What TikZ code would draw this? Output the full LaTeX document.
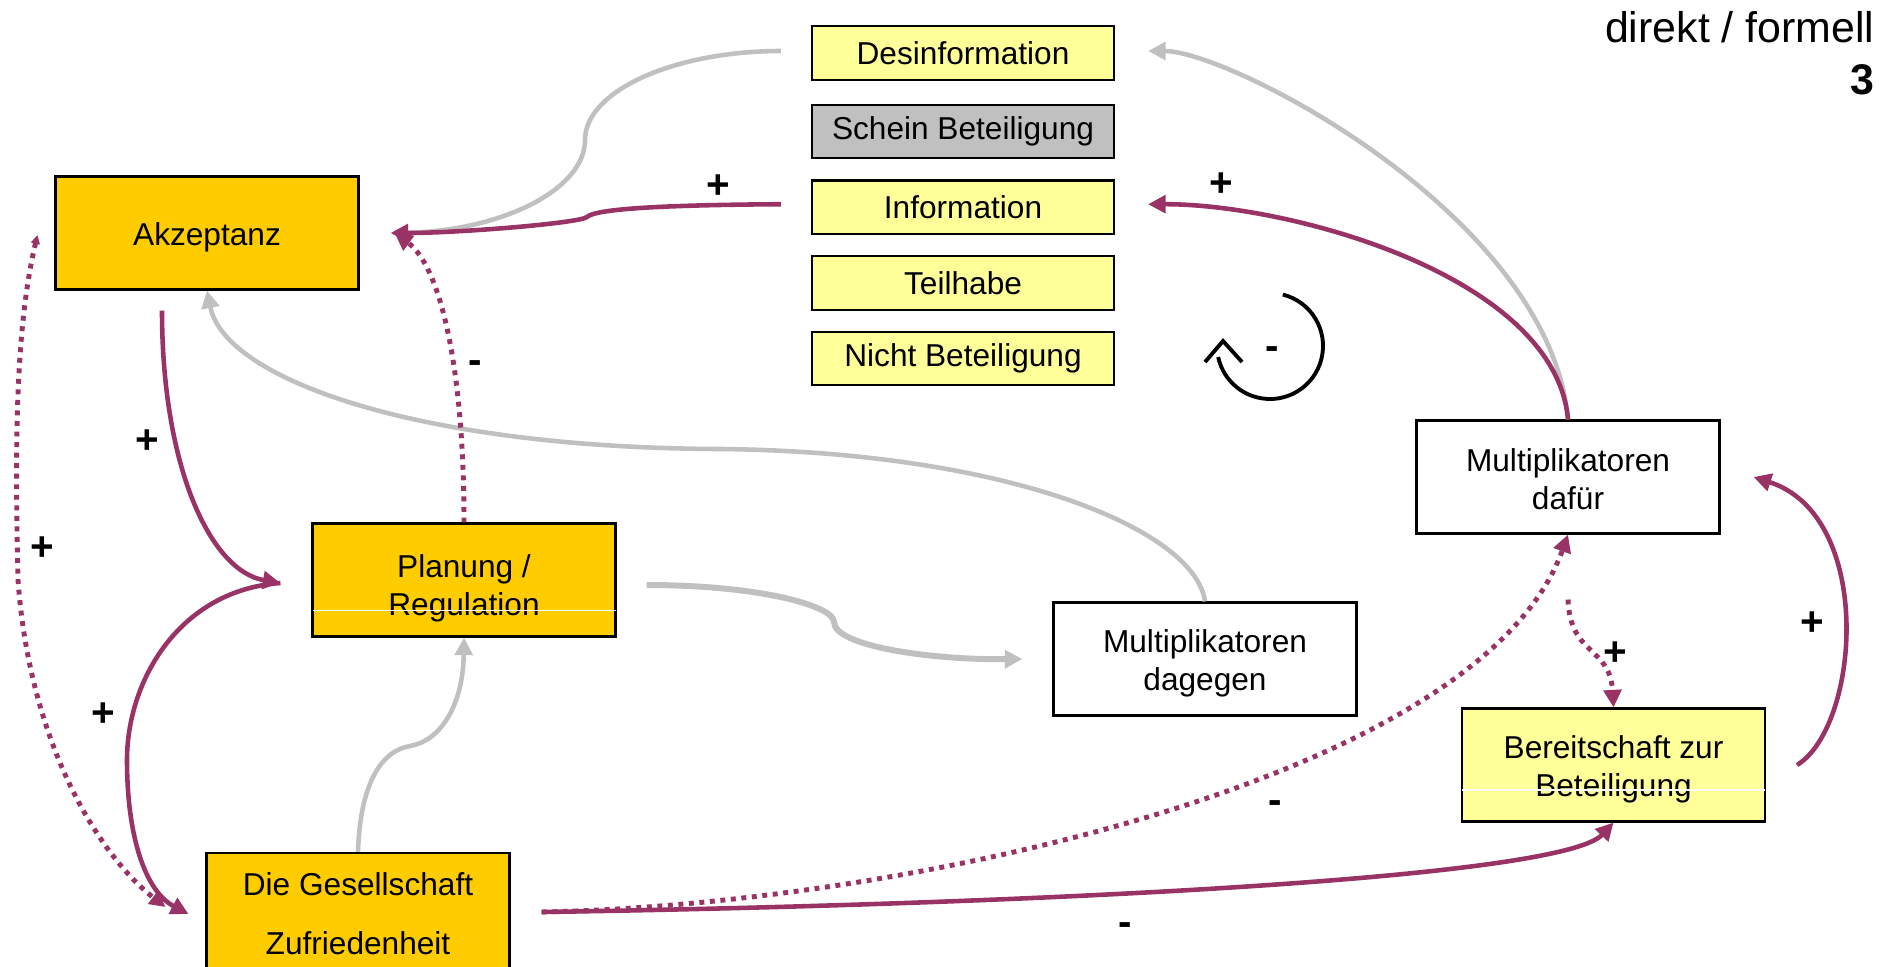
\documentclass[tikz,border=0pt]{standalone}
\usepackage{fontspec}
\setmainfont{Liberation Sans}
\usetikzlibrary{positioning,arrows.meta}

\definecolor{akzorange}{HTML}{FFCC00}
\definecolor{hellgelb}{HTML}{FFFF99}
\definecolor{hellgrau}{HTML}{C0C0C0}
\definecolor{lila}{HTML}{993366}

\tikzset{
  kasten/.style={draw, line width=0.6pt, minimum width=3.03cm, minimum height=1.13cm,
    inner sep=0pt, align=center, font=\fontsize{9}{10.8}\selectfont},
  stufe/.style={kasten, minimum width=3.02cm, minimum height=0.535cm, fill=hellgelb},
  pfeil/.style={draw=lila, line width=1.3pt, -{Triangle[length=5pt,width=5pt]}},
  punktpfeil/.style={pfeil, line width=1.4pt, dash pattern=on 1.4pt off 1.6pt},
  graupfeil/.style={draw=hellgrau, line width=1.3pt, -{Triangle[length=5pt,width=5pt]}},
  zeichen/.style={font=\bfseries\fontsize{11.5}{12}\selectfont}
}

\begin{document}
\begin{tikzpicture}
        \useasboundingbox (0,0) rectangle (18.92,9.66);
        \clip (0,0) rectangle (18.92,9.66);

        % Titel
        \node[anchor=east, inner sep=0pt, font=\fontsize{12.2}{14}\selectfont] (titel) at (18.75,9.39) {direkt / formell};
        \node[anchor=east, inner sep=0pt, font=\bfseries\fontsize{12.2}{14}\selectfont] (nr) at (18.75,8.86) {3};

        % Stufen der Beteiligung
        \node[stufe] (des) at (9.63,9.13) {Desinformation};
        \node[stufe, fill=hellgrau, below=0.23cm of des] (schein) {Schein Beteiligung};
        \node[stufe, below=0.2cm of schein] (inf) {Information};
        \node[stufe, below=0.2cm of inf] (teil) {Teilhabe};
        \node[stufe, below=0.2cm of teil] (nicht) {Nicht Beteiligung};

        % Kaesten
        \node[kasten, fill=akzorange] (akz) at (2.07,7.33) {\rule{0pt}{8.9pt}Akzeptanz};
        \node[kasten, fill=akzorange] (plan) at (4.64,3.86) {\rule{0pt}{11.4pt}Planung /\\Regulation};
        \node[kasten, fill=akzorange, minimum height=1.22cm, font=\fontsize{9}{16.8}\selectfont] (ges) at (3.58,0.52) {Die Gesellschaft\\Zufriedenheit};
        \node[kasten, fill=white] (dag) at (12.05,3.07) {\rule{0pt}{9pt}Multiplikatoren\\dagegen};
        \node[kasten, fill=white] (daf) at (15.68,4.89) {\rule{0pt}{8pt}Multiplikatoren\\dafür};
        \node[kasten, fill=hellgelb] (ber) at (16.135,2.01) {\rule{0pt}{9pt}Bereitschaft zur\\Beteiligung};

        % weisse Linien in den Kaesten
        \draw[white, line width=0.4pt, shorten <=0.3pt, shorten >=0.3pt] ([yshift=-0.306cm]plan.west) -- ([yshift=-0.306cm]plan.east);
        \draw[white, line width=0.4pt, shorten <=0.3pt, shorten >=0.3pt] ([yshift=-0.25cm]ber.west) -- ([yshift=-0.25cm]ber.east);

        % graue Verbindungen
        \draw[graupfeil, -] ([xshift=-0.3cm,yshift=0.02cm]des.west) .. controls (6.74,9.15) and (5.85,8.75) .. (5.85,8.26)
            .. controls (5.85,7.76) and (5.0,7.34) .. ([xshift=0.42cm]akz.east);
        \draw[graupfeil] (daf.north) .. controls (15.5,7.5) and (12.3,9.15) .. ([xshift=0.33cm,yshift=0.02cm]des.east);
        \draw[graupfeil] (dag.north) .. controls (11.95,4.36) and (10.1,5.14) .. (7.2,5.17)
            .. controls (4.2,5.18) and (2.25,5.86) .. (akz.south);
        \draw[graupfeil, line width=1.7pt] ([xshift=0.3cm,yshift=-0.05cm]plan.east) .. controls (7.6,3.81) and (8.34,3.6) .. (8.34,3.44)
            .. controls (8.34,3.2) and (9.3,3.06) .. ([xshift=-0.3cm]dag.west);
        \draw[graupfeil] (ges.north) .. controls (3.6,1.8) and (3.8,2.15) .. (4.1,2.2)
            .. controls (4.4,2.25) and (4.63,2.6) .. (plan.south);

        % lila Verbindungen
        \draw[pfeil] ([xshift=-0.3cm,yshift=0.03cm]inf.west) .. controls (6.6,7.61) and (5.95,7.57) .. (5.87,7.49)
            .. controls (5.8,7.43) and (4.6,7.33) .. ([xshift=0.31cm]akz.east);
        \draw[pfeil] (daf.north) .. controls (15.55,6.9) and (12.9,7.62) .. ([xshift=0.33cm,yshift=0.03cm]inf.east);
        \draw[pfeil] ([xshift=-0.45cm,yshift=-0.2cm]akz.south) .. controls (1.62,5.0) and (2.1,3.95) .. ([xshift=-0.31cm,yshift=-0.03cm]plan.west);
        \draw[pfeil] ([xshift=-0.31cm,yshift=-0.03cm]plan.west) .. controls (1.8,3.76) and (1.27,2.86) .. (1.27,2.06)
            .. controls (1.27,1.3) and (1.45,0.75) .. ([xshift=-0.17cm]ges.west);
        \draw[punktpfeil] (plan.north) .. controls (4.64,6.0) and (4.4,7.0) .. ([xshift=0.35cm]akz.east);
        \draw[punktpfeil, {Triangle[length=2.5pt,width=2.5pt]}-{Triangle[length=4.5pt,width=4.5pt]}] ([xshift=-0.17cm,yshift=-0.02cm]akz.west)
            .. controls (0.15,6.36) and (0.15,5.16) .. (0.18,3.86)
            .. controls (0.3,2.2) and (1.0,1.1) .. ([xshift=-0.4cm,yshift=0.07cm]ges.west);
        \draw[pfeil] ([xshift=0.31cm,yshift=0.02cm]ges.east) .. controls (10.0,0.61) and (15.6,0.86) .. (ber.south);
        \draw[punktpfeil] ([xshift=0.31cm,yshift=0.02cm]ges.east) .. controls (9.0,0.61) and (14.8,1.86) .. (daf.south);
        \draw[punktpfeil] ([yshift=-0.65cm]daf.south) .. controls (15.7,3.1) and (16.1,3.2) .. (ber.north);
        \draw[pfeil] ([xshift=0.31cm]ber.east) .. controls (18.6,2.4) and (18.75,4.5) .. ([xshift=0.33cm]daf.east);

        % Vorzeichen
        \node[zeichen] (plus1) at (7.18,7.79) {+};
        \node[zeichen] (plus2) at (12.21,7.81) {+};
        \node[zeichen] (plus3) at (1.47,5.24) {+};
        \node[zeichen] (minus1) at (4.75,5.99) {-};
        \node[zeichen] (plus4) at (0.42,4.17) {+};
        \node[zeichen] (plus5) at (1.03,2.51) {+};
        \node[zeichen] (minus2) at (12.75,1.59) {-};
        \node[zeichen] (minus3) at (11.25,0.37) {-};
        \node[zeichen] (plus6) at (16.15,3.12) {+};
        \node[zeichen] (plus7) at (18.12,3.42) {+};

        % Kreislauf-Symbol
        \coordinate (kreis) at (12.70,6.20);
        \draw[line width=1.1pt] (kreis) ++(76:0.53) arc[start angle=76, end angle=-168, radius=0.53];
        \draw[line width=1.1pt] ([xshift=-0.65cm,yshift=-0.16cm]kreis) -- ([xshift=-0.47cm,yshift=0.05cm]kreis) -- ([xshift=-0.28cm,yshift=-0.16cm]kreis);
        \node[zeichen] (kreiszeichen) at ([xshift=0.02cm,yshift=-0.07cm]kreis) {-};
\end{tikzpicture}
\end{document}
